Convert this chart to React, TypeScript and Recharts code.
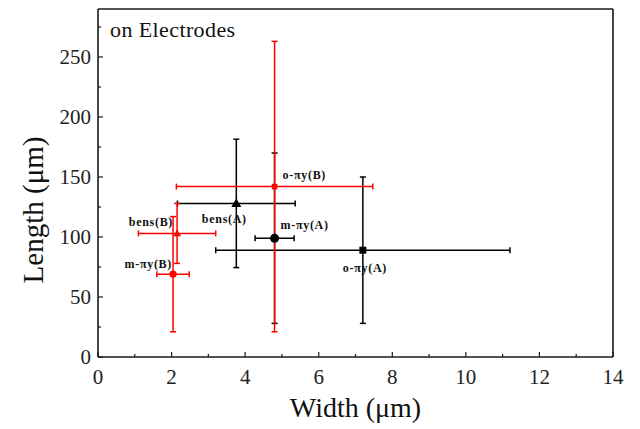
import { ErrorBar, Scatter, ScatterChart, XAxis, YAxis } from 'recharts'

// Sample A (black) and sample B (red): mean width / length with spread
const NAMES_A = ['bens(A)', 'm-πy(A)', 'o-πy(A)']
const WIDTH_A = [3.76, 4.8, 7.2]
const LENGTH_A = [128, 99, 89]
const WIDTH_ERR_A = [1.6, 0.53, 4.0]
const LENGTH_ERR_A = [53.5, 71, 61]

const NAMES_B = ['bens(B)', 'm-πy(B)', 'o-πy(B)']
const WIDTH_B = [2.15, 2.04, 4.8]
const LENGTH_B = [103, 69, 142]
const WIDTH_ERR_B = [1.05, 0.44, 2.67]
const LENGTH_ERR_B = [25, 48, 121]

const X_TICKS = [0, 1, 2, 3, 4, 5, 6, 7, 8, 9, 10, 11, 12, 13, 14]
const Y_TICKS = [0, 25, 50, 75, 100, 125, 150, 175, 200, 225, 250, 275]

const FONT = '"Liberation Serif", "Times New Roman", serif'
const FRAME = '#1a1a1a'
const RED = '#ff0000'

// where each point's label sits relative to its marker
const LABEL_PLACEMENT: Record<string, { dx: number; dy: number; anchor: 'start' | 'middle' | 'end' }> = {
  'bens(A)': { dx: -12, dy: 20, anchor: 'middle' },
  'm-πy(A)': { dx: 6, dy: -9, anchor: 'start' },
  'o-πy(A)': { dx: -20, dy: 22, anchor: 'start' },
  'bens(B)': { dx: -4, dy: -7, anchor: 'end' },
  'm-πy(B)': { dx: -1, dy: -6, anchor: 'end' },
  'o-πy(B)': { dx: 8, dy: -8, anchor: 'start' }
}

function buildSeries(names: string[], xs: number[], ys: number[], ex: number[], ey: number[]) {
  return names.map((name, i) => ({ name, x: xs[i], y: ys[i], ex: ex[i], ey: ey[i] }))
}

const seriesA = buildSeries(NAMES_A, WIDTH_A, LENGTH_A, WIDTH_ERR_A, LENGTH_ERR_A)
const seriesB = buildSeries(NAMES_B, WIDTH_B, LENGTH_B, WIDTH_ERR_B, LENGTH_ERR_B)

function makeMarker(color: string, scale: number) {
  return (props: any) => {
    const { cx, cy } = props
    const name: string = props.payload?.name ?? props.name
    const place = LABEL_PLACEMENT[name]
    let marker
    if (name.startsWith('bens')) {
      const s = 5 * scale
      marker = (
        <polygon
          points={`${cx},${cy - s} ${cx - s},${cy + s * 0.7} ${cx + s},${cy + s * 0.7}`}
          fill={color}
        />
      )
    } else if (name.startsWith('m-')) {
      marker = <circle cx={cx} cy={cy} r={4.5 * scale} fill={color} />
    } else {
      const h = 3.5 * scale
      marker = <rect x={cx - h} y={cy - h} width={h * 2} height={h * 2} fill={color} />
    }
    return (
      <g>
        {marker}
        <text
          x={cx + place.dx}
          y={cy + place.dy}
          textAnchor={place.anchor}
          fontFamily={FONT}
          fontSize={12}
          fontWeight="bold"
          letterSpacing={0.7}
          fill="#111"
        >
          {name}
        </text>
      </g>
    )
  }
}

function BottomTick({ x, y, payload }: any) {
  const major = payload.value % 2 === 0
  return (
    <g>
      <line x1={x} x2={x} y1={y} y2={y - (major ? 5 : 3)} stroke={FRAME} strokeWidth={1.2} />
      {major && (
        <text x={x} y={y + 27} textAnchor="middle" fontFamily={FONT} fontSize={21} fill="#222">
          {payload.value}
        </text>
      )}
    </g>
  )
}

function LeftTick({ x, y, payload }: any) {
  const major = payload.value % 50 === 0
  return (
    <g>
      <line x1={x} x2={x + (major ? 5 : 3)} y1={y} y2={y} stroke={FRAME} strokeWidth={1.2} />
      {major && (
        <text x={x - 7} y={y + 7} textAnchor="end" fontFamily={FONT} fontSize={21} fill="#222">
          {payload.value}
        </text>
      )}
    </g>
  )
}

function RightTick({ x, y, payload }: any) {
  const major = payload.value % 50 === 0
  return <line x1={x} x2={x - (major ? 5 : 3)} y1={y} y2={y} stroke={FRAME} strokeWidth={1.2} />
}

export default function App() {
  return (
    <div style={{ position: 'absolute', left: 0, top: 0, width: 640, height: 429, background: '#fff' }}>
      <ScatterChart width={640} height={429} margin={{ top: 8, right: 26, bottom: 71, left: 97 }}>
        <XAxis
          type="number"
          dataKey="x"
          domain={[0, 14]}
          ticks={X_TICKS}
          interval={0}
          height={1}
          tickSize={0}
          tickMargin={0}
          tickLine={false}
          tick={<BottomTick />}
          axisLine={{ stroke: FRAME, strokeWidth: 1.6 }}
          label={{
            value: 'Width (μm)',
            position: 'bottom',
            offset: 39,
            style: { fontFamily: FONT, fontSize: 28, fill: '#111' }
          }}
        />
        <XAxis
          xAxisId="top"
          orientation="top"
          type="number"
          domain={[0, 14]}
          height={1}
          tick={false}
          tickLine={false}
          axisLine={{ stroke: FRAME, strokeWidth: 1.6 }}
        />
        <YAxis
          type="number"
          dataKey="y"
          domain={[0, 290]}
          ticks={Y_TICKS}
          interval={0}
          width={1}
          tickSize={0}
          tickMargin={0}
          tickLine={false}
          tick={<LeftTick />}
          axisLine={{ stroke: FRAME, strokeWidth: 1.6 }}
          label={{
            content: ({ viewBox }: any) => {
              const cx = viewBox.x - 64
              const cy = 210
              return (
                <text
                  x={cx}
                  y={cy}
                  transform={`rotate(-90 ${cx} ${cy})`}
                  textAnchor="middle"
                  dominantBaseline="central"
                  fontFamily={FONT}
                  fontSize={29}
                  fill="#111"
                >
                  Length (μm)
                </text>
              )
            }
          }}
        />
        <YAxis
          yAxisId="right"
          orientation="right"
          type="number"
          domain={[0, 290]}
          ticks={Y_TICKS}
          interval={0}
          width={1}
          tickSize={0}
          tickMargin={0}
          tickLine={false}
          tick={<RightTick />}
          axisLine={{ stroke: FRAME, strokeWidth: 1.6 }}
        />
        <Scatter data={seriesA} shape={makeMarker('#000', 1)} isAnimationActive={false}>
          <ErrorBar dataKey="ex" direction="x" width={3} stroke="#000" strokeWidth={1.5} />
          <ErrorBar dataKey="ey" direction="y" width={3} stroke="#000" strokeWidth={1.5} />
        </Scatter>
        <Scatter data={seriesB} shape={makeMarker(RED, 0.8)} isAnimationActive={false}>
          <ErrorBar dataKey="ex" direction="x" width={3} stroke={RED} strokeWidth={1.5} />
          <ErrorBar dataKey="ey" direction="y" width={3} stroke={RED} strokeWidth={1.5} />
        </Scatter>
      </ScatterChart>
      <div
        style={{
          position: 'absolute',
          left: 110,
          top: 19,
          fontFamily: FONT,
          fontSize: 22,
          lineHeight: '22px',
          letterSpacing: 0.4,
          color: '#111',
          whiteSpace: 'nowrap'
        }}
      >
        on Electrodes
      </div>
    </div>
  )
}
